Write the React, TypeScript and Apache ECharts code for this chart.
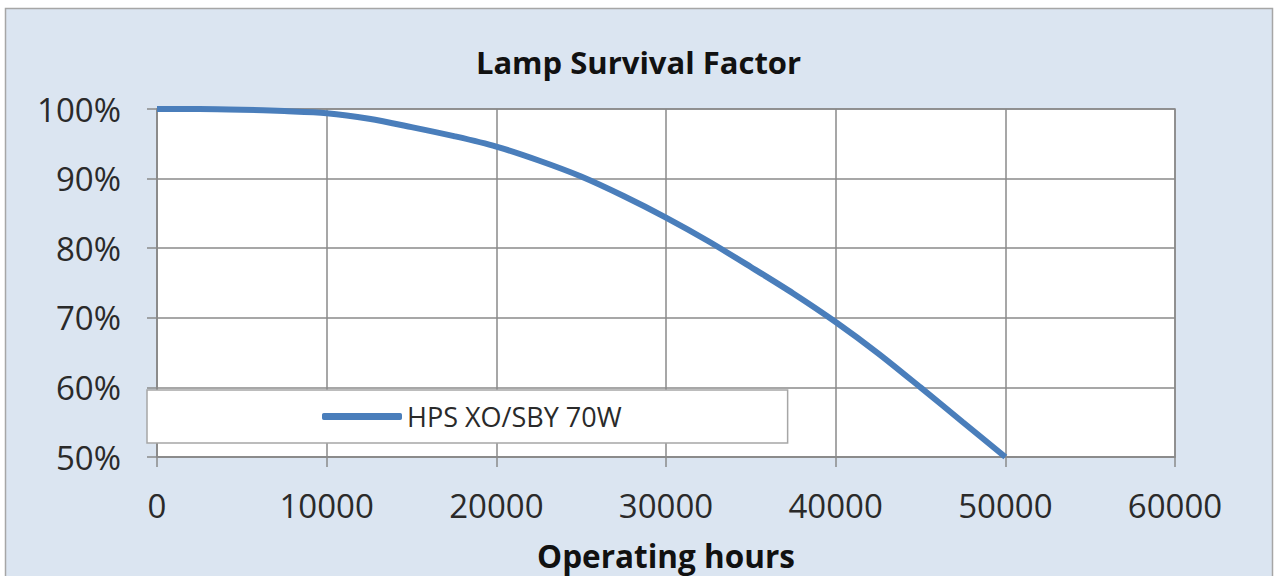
import React, { useEffect, useRef } from "react";
import * as echarts from "echarts";

const hours = [
  0, 2500, 5000, 7500, 10000, 12500, 15000, 17500, 20000, 22500, 25000,
  27500, 30000, 32500, 35000, 37500, 40000, 42500, 45000, 47500, 50000,
];
const survival = [
  100, 100, 99.9, 99.7, 99.4, 98.6, 97.4, 96.1, 94.6, 92.6, 90.3,
  87.5, 84.4, 81.0, 77.3, 73.5, 69.4, 64.9, 60.0, 55.0, 50,
];
const seriesName = "HPS XO/SBY 70W";
const titleText = "Lamp Survival Factor";
const xName = "Operating hours";

export default function App() {
  const ref = useRef<HTMLDivElement>(null);
  useEffect(() => {
    document.body.style.margin = "0";
    const chart = echarts.init(ref.current!, null, { renderer: "svg" });
    const font = "'Open Sans', 'Noto Sans', sans-serif";
    const gridColor = "#8a8a8a";
    chart.setOption({
      animation: false,
      backgroundColor: "#ffffff",
      graphic: [
        {
          type: "rect",
          z: -10,
          shape: { x: 5.5, y: 8.5, width: 1267, height: 580 },
          style: { fill: "#dbe5f1", stroke: "#a6a6a6", lineWidth: 1.5 },
        },
      ],
      title: {
        text: titleText,
        left: "center",
        top: 41,
        textStyle: { fontFamily: font, fontWeight: "bold", fontSize: 31, color: "#111" },
      },
      grid: {
        left: 157,
        right: 102,
        top: 109,
        bottom: 118,
        show: true,
        backgroundColor: "#ffffff",
        borderColor: gridColor,
        borderWidth: 1.5,
      },
      legend: {
        left: 147,
        top: 390,
        orient: "horizontal",
        backgroundColor: "#ffffff",
        borderColor: "#a6a6a6",
        borderWidth: 1.5,
        borderRadius: 0,
        padding: [13, 166, 13, 175],
        itemWidth: 80,
        itemHeight: 7,
        itemGap: 5,
        icon: "roundRect",
        textStyle: { fontFamily: font, fontSize: 27, color: "#2a2a2a" },
        data: [seriesName],
      },
      xAxis: {
        type: "value",
        min: 0,
        max: 60000,
        interval: 10000,
        name: xName,
        nameLocation: "middle",
        nameGap: 82,
        nameTextStyle: { fontFamily: font, fontWeight: "bold", fontSize: 31.5, color: "#111" },
        axisLine: { show: true, lineStyle: { color: gridColor, width: 1.5 } },
        axisTick: { show: true, length: 10, lineStyle: { color: gridColor, width: 1.5 } },
        axisLabel: {
          margin: 32,
          fontFamily: font,
          fontSize: 33,
          color: "#2a2a2a",
          formatter: (v: number) => String(v),
        },
        splitLine: { show: true, lineStyle: { color: gridColor, width: 1.5 } },
      },
      yAxis: {
        type: "value",
        min: 50,
        max: 100,
        interval: 10,
        axisLine: { show: true, lineStyle: { color: gridColor, width: 1.5 } },
        axisTick: { show: true, length: 10, lineStyle: { color: gridColor, width: 1.5 } },
        axisLabel: {
          margin: 36,
          fontFamily: font,
          fontSize: 33,
          color: "#2a2a2a",
          formatter: (v: number) => `${v}%`,
        },
        splitLine: { show: true, lineStyle: { color: gridColor, width: 1.5 } },
      },
      series: [
        {
          name: seriesName,
          type: "line",
          smooth: 0.3,
          showSymbol: false,
          symbol: "none",
          data: hours.map((h, i) => [h, survival[i]]),
          lineStyle: { color: "#4a7ebb", width: 6 },
          itemStyle: { color: "#4a7ebb" },
        },
      ],
    });
    return () => chart.dispose();
  }, []);
  return <div ref={ref} style={{ width: 1277, height: 576 }} />;
}
